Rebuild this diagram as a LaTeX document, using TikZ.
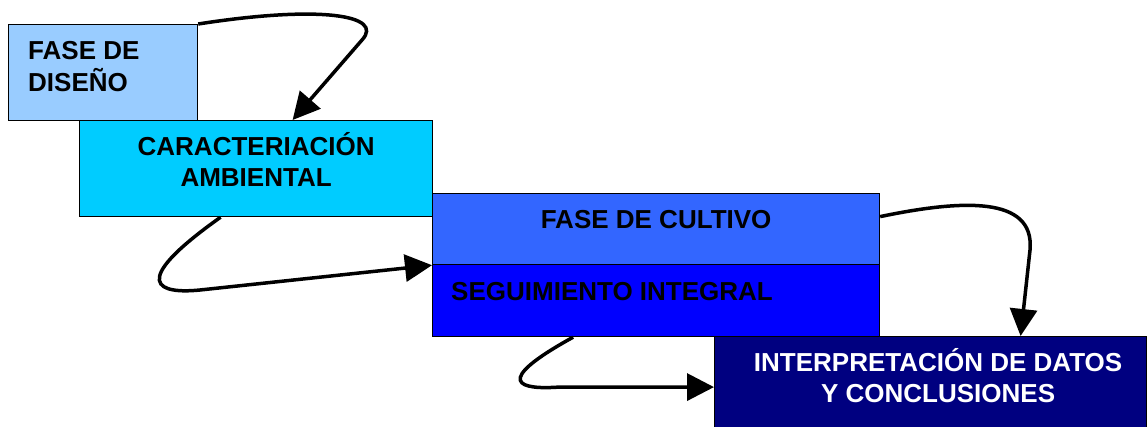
\documentclass[tikz,border=0pt]{standalone}
\usepackage{fontspec}
\setmainfont{Liberation Sans}
\usepackage{tikz}
\usetikzlibrary{arrows.meta}
\usepackage{xcolor}
\definecolor{disenoblue}{HTML}{99CCFF}
\definecolor{caractblue}{HTML}{00CCFF}
\definecolor{cultivoblue}{HTML}{3366FF}
\definecolor{seguimblue}{HTML}{0000FF}
\definecolor{interpblue}{HTML}{000080}

\begin{document}
\begin{tikzpicture}[x=1pt, y=-1pt,
    phase/.style={draw=black, line width=1.2pt, anchor=north west, inner sep=0pt},
    lbl/.style={font=\fontsize{26}{31.6}\selectfont\bfseries, inner sep=0pt},
    flow/.style={line width=3.5pt, -{Triangle[length=27pt, width=27pt]}}]
    \useasboundingbox (0,0) rectangle (1147,427);

    % Phase boxes
    \node[phase, fill=disenoblue, minimum width=189pt, minimum height=96pt] (diseno) at (8,24) {};
    \node[phase, fill=caractblue, minimum width=353pt, minimum height=96pt] (caract) at (79,120) {};
    \node[phase, fill=cultivoblue, minimum width=447pt, minimum height=71pt] (cultivo) at (432,193) {};
    \node[phase, fill=seguimblue, minimum width=447pt, minimum height=72pt] (seguim) at (432,264) {};
    \node[phase, fill=interpblue, minimum width=432pt, minimum height=96pt] (interp) at (714,336) {};

    % Labels
    \node[lbl, anchor=west, align=left] (diseno-t) at ([xshift=20pt, yshift=6.3pt]diseno.west) {FASE DE\\DISEÑO};
    \node[lbl, align=center] (caract-t) at ([yshift=9pt]caract.center) {CARACTERIACIÓN\\AMBIENTAL};
    \node[lbl] (cultivo-t) at ([yshift=10pt]cultivo.center) {FASE DE CULTIVO};
    \node[lbl, anchor=west] (seguim-t) at ([xshift=19pt, yshift=9pt]seguim.west) {SEGUIMIENTO INTEGRAL};
    \node[lbl, text=white, align=center] (interp-t) at ([xshift=7.5pt, yshift=9.1pt]interp.center) {INTERPRETACIÓN DE DATOS\\Y CONCLUSIONES};

    % Loops between phases
    \draw[flow] (diseno.north east) .. controls (320,5) and (385,15) .. (362,40) -- ([xshift=36.5pt]caract.north);
    \draw[flow] ([xshift=-35.5pt]caract.south) .. controls (125,285) and (160,294) .. (200,290) -- (cultivo.south west);
    \draw[flow] ([yshift=12.5pt]cultivo.east) .. controls (960,200) and (1035,195) .. (1030,250) -- ([xshift=90pt]interp.north);
    \draw[flow] ([xshift=-83pt]seguim.south) .. controls (490,383) and (520,390) .. (560,387) -- ([yshift=-2.5pt]interp.west);
\end{tikzpicture}
\end{document}
